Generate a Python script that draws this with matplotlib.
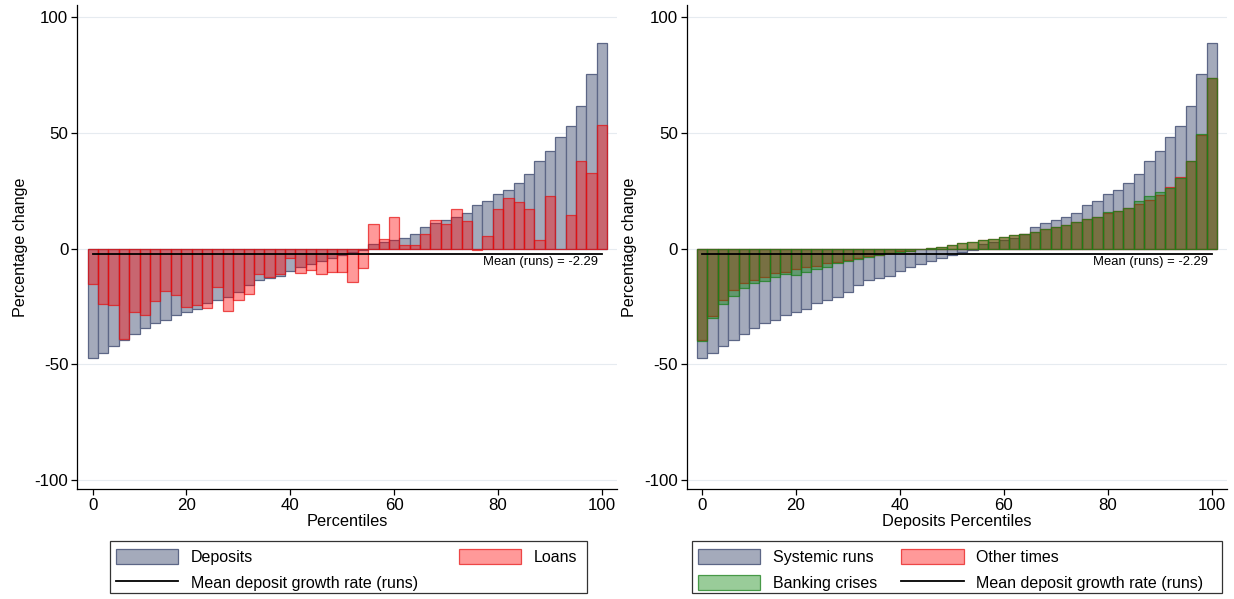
"""
Deposit and loan growth by percentile - two panel bar chart
"""

import matplotlib
matplotlib.use('Agg')
import matplotlib.pyplot as plt
from matplotlib.patches import Patch, Rectangle
from matplotlib.lines import Line2D

plt.rcParams['font.family'] = ['Liberation Sans', 'DejaVu Sans']
plt.rcParams['axes.unicode_minus'] = False

# percentile bins (bar positions)
percentiles = [2, 4, 6, 8, 10, 12, 14, 16, 18, 20,
               22, 24, 26, 28, 30, 32, 34, 36, 38, 40,
               42, 44, 46, 48, 50, 52, 54, 56, 58, 60,
               62, 64, 66, 68, 70, 72, 74, 76, 78, 80,
               82, 84, 86, 88, 90, 92, 94, 96, 98, 100]

# deposit growth during systemic runs (grey bars, both panels)
deposits = [-47.2, -45.1, -41.9, -39.7, -37.1, -34.4, -32.1, -30.7, -28.7, -27.6,
            -26.2, -23.5, -22.2, -20.9, -18.9, -15.7, -13.5, -12.7, -11.7, -9.5,
            -7.8, -6.8, -5.5, -4.0, -3.0, -1.7, -0.6, 2.0, 3.0, 3.7,
            4.6, 6.3, 9.4, 10.9, 12.4, 13.7, 15.5, 18.7, 20.4, 23.4,
            25.1, 28.4, 32.0, 37.7, 42.0, 48.0, 52.9, 61.4, 75.4, 88.9]

# loan growth (left panel)
loans = [-15.5, -23.9, -24.5, -39.0, -27.4, -28.7, -22.5, -18.3, -20.0, -25.2,
         -24.2, -25.6, -16.7, -27.1, -22.2, -19.6, -10.9, -12.4, -10.9, -4.0,
         -10.4, -9.1, -10.9, -10.2, -10.0, -14.3, -8.2, 10.7, 4.0, 13.7,
         1.7, 1.7, 6.3, 12.4, 10.7, 17.1, 11.9, -0.8, 5.5, 16.9,
         21.7, 20.2, 16.9, 3.5, 22.5, 0.0, 14.3, 37.7, 32.5, 53.2]

# deposit growth in other times / banking crises (right panel)
other_times = [-39.5, -29.2, -22.2, -17.9, -15.0, -13.6, -12.2, -10.7, -10.0, -9.0,
               -7.8, -7.4, -6.4, -5.7, -5.0, -4.2, -3.2, -2.7, -1.8, -1.1,
               -0.9, -0.4, 0.3, 0.8, 1.4, 2.2, 2.8, 3.7, 4.1, 5.0,
               5.7, 6.4, 7.3, 8.3, 9.1, 10.3, 11.3, 12.6, 13.8, 15.2,
               16.0, 17.3, 19.2, 20.9, 23.3, 26.4, 30.9, 37.7, 49.0, 73.5]

banking_crises = [-40.0, -30.2, -24.0, -20.5, -17.2, -14.8, -14.0, -12.4, -11.2, -11.6,
                  -10.1, -9.0, -8.1, -6.1, -5.4, -4.7, -3.5, -3.0, -2.0, -1.3,
                  -1.0, -0.4, 0.3, 0.8, 1.4, 2.2, 2.8, 3.7, 4.1, 5.0,
                  5.7, 6.4, 7.3, 8.3, 9.1, 10.3, 11.3, 12.6, 13.8, 15.8,
                  16.0, 17.3, 20.4, 22.7, 24.4, 26.0, 30.3, 37.7, 49.5, 73.5]

mean_runs = -2.29

xtick_pos = [2, 20, 40, 60, 80, 100]
xtick_labels = ['0', '20', '40', '60', '80', '100']
yticks = [100, 50, 0, -50, -100]

# colours
grey_face = '#a4aabb'
grey_edge = '#5c6686'
red_face = (1.0, 0.0, 0.0, 0.4)
red_edge = (0.9, 0.05, 0.05, 0.7)
green_face = (0.0, 0.5, 0.0, 0.4)
green_edge = (0.1, 0.5, 0.1, 0.75)
grid_col = '#e6ebf0'

W, H = 1234, 599
fig = plt.figure(figsize=(W / 100, H / 100), dpi=100)
ax1 = fig.add_axes([77.3 / W, (H - 489.3) / H, 539.4 / W, 484.3 / H])
ax2 = fig.add_axes([686.7 / W, (H - 489.3) / H, 540.0 / W, 484.3 / H])


def style_axis(ax, xlabel):
    ax.set_xlim(-1.0, 102.85)
    ax.set_ylim(-104.0, 105.2)
    ax.set_yticks(yticks)
    ax.set_yticklabels([str(v) for v in yticks])
    ax.set_xticks(xtick_pos)
    ax.set_xticklabels(xtick_labels)
    ax.tick_params(axis='both', direction='out', length=4, width=0.9,
                   labelsize=12.2, pad=2.5, colors='black')
    for s in ['top', 'right']:
        ax.spines[s].set_visible(False)
    for s in ['left', 'bottom']:
        ax.spines[s].set_linewidth(0.9)
    ax.grid(axis='y', color=grid_col, linewidth=0.8, zorder=0)
    ax.set_axisbelow(True)
    ax.set_ylabel('Percentage change', fontsize=11.6)
    ax.yaxis.set_label_coords(-0.092, 0.5)
    ax.set_xlabel(xlabel, fontsize=11.8)
    ax.xaxis.set_label_coords(0.5, -0.051)


def mean_line(ax):
    ax.plot([percentiles[0], percentiles[-1]], [mean_runs, mean_runs],
            color='black', linewidth=1.3, zorder=5)
    ax.text(99.2, mean_runs - 0.8, f'Mean (runs) = {mean_runs:.2f}',
            ha='right', va='top', fontsize=9.4, zorder=6)


def legend_box(x0, x1):
    # plain square box drawn round a frameless legend (pixel coords)
    fig.patches.append(Rectangle((x0 / W, (H - 593) / H), (x1 - x0) / W, 52 / H,
                                 transform=fig.transFigure, fill=False,
                                 edgecolor='#333333', linewidth=0.9))


leg_kw = dict(ncol=2, fontsize=11.5, handlelength=3.9, loc='upper left',
              frameon=False, handleheight=1.1, handletextpad=0.8,
              labelspacing=0.6, borderpad=0.5, borderaxespad=0,
              bbox_transform=fig.transFigure)

# ---- left panel: deposits vs loans ----
ax1.bar(percentiles, deposits, width=2, facecolor=grey_face,
        edgecolor=grey_edge, linewidth=0.9, zorder=2)
ax1.bar(percentiles, loans, width=2, facecolor=red_face,
        edgecolor=red_edge, linewidth=0.9, zorder=3)
mean_line(ax1)
style_axis(ax1, 'Percentiles')

h_dep = Patch(facecolor=grey_face, edgecolor=grey_edge, linewidth=0.9)
h_loan = Patch(facecolor=red_face, edgecolor=red_edge, linewidth=0.9)
h_mean = Line2D([0], [0], color='black', linewidth=1.3)

ax1.legend([h_dep, h_mean, h_loan],
           ['Deposits', 'Mean deposit growth rate (runs)', 'Loans'],
           columnspacing=2.55,
           bbox_to_anchor=(108 / W, (H - 541) / H), **leg_kw)
legend_box(110, 587)

# ---- right panel: systemic runs vs other times / banking crises ----
ax2.bar(percentiles, deposits, width=2, facecolor=grey_face,
        edgecolor=grey_edge, linewidth=0.9, zorder=2)
ax2.bar(percentiles, other_times, width=2, facecolor=red_face,
        edgecolor=red_edge, linewidth=0.9, zorder=3)
ax2.bar(percentiles, banking_crises, width=2, facecolor=green_face,
        edgecolor=green_edge, linewidth=0.9, zorder=4)
mean_line(ax2)
style_axis(ax2, 'Deposits Percentiles')

h_sys = Patch(facecolor=grey_face, edgecolor=grey_edge, linewidth=0.9)
h_other = Patch(facecolor=red_face, edgecolor=red_edge, linewidth=0.9)
h_bank = Patch(facecolor=green_face, edgecolor=green_edge, linewidth=0.9)

ax2.legend([h_sys, h_bank, h_other, h_mean],
           ['Systemic runs', 'Banking crises', 'Other times',
            'Mean deposit growth rate (runs)'],
           columnspacing=1.5,
           bbox_to_anchor=(690 / W, (H - 541) / H), **leg_kw)
legend_box(692, 1222)

fig.savefig('out.png', dpi=100, facecolor='white')
plt.close(fig)
